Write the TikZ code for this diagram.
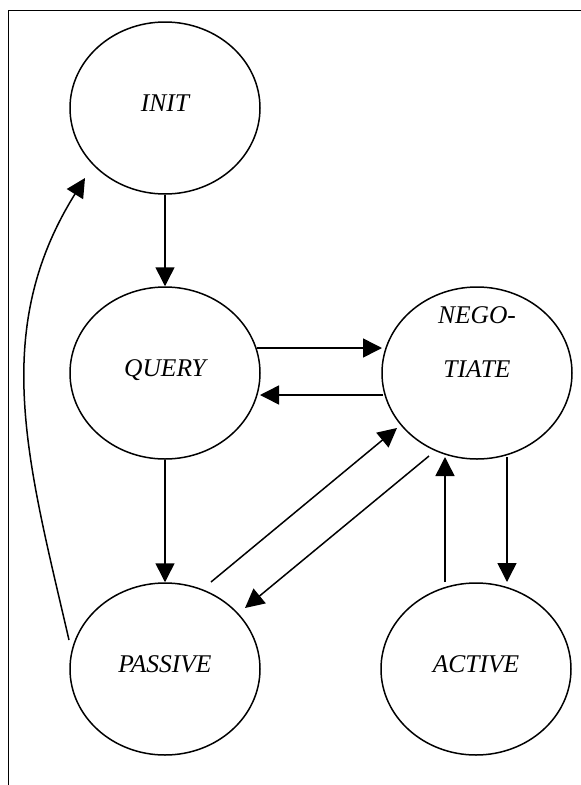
\documentclass[tikz,border=0pt]{standalone}
\usepackage{fontspec}
\setmainfont{Liberation Serif}
\usetikzlibrary{arrows.meta,calc,shapes.geometric}

\tikzset{
  state/.style={draw, ellipse, line width=1.5pt, minimum width=190pt, minimum height=172pt,
    inner sep=0pt, font=\fontsize{25.5}{29}\selectfont\itshape,
    text height=17pt, text depth=10pt},
  statetext/.style={font=\fontsize{25.5}{54}\selectfont\itshape, align=center, inner sep=0pt},
  flow/.style={line width=1.5pt, -{Triangle[length=19pt,width=19pt]}},
  frame/.style={line width=1.6pt}
}

\begin{document}
\begin{tikzpicture}[x=1pt,y=-1pt]
  \useasboundingbox (0,0) rectangle (581,785);

  % frame: top and left rules only
  \coordinate (ftl) at (8.5,10.5);
  \coordinate (ftr) at (581,10.5);
  \coordinate (fbl) at (8.5,785);
  \draw[frame] (ftr) -- (ftl) -- (fbl);

  % states
  \node[state] (init)    at (165,108) {INIT};
  \node[state] (query)   at (165,373) {QUERY};
  \node[state] (nego)    at (477,373) {};
  \node[statetext] (negotext) at (477,342) {NEGO-\\TIATE};
  \node[state] (passive) at (165,669) {PASSIVE};
  \node[state] (active)  at (476,669) {ACTIVE};

  % transitions
  \draw[flow] (init.south) -- (query.north);
  \draw[flow] ($(query.center)+(92,-25)$) -- ($(nego.center)+(-95,-25)$);
  \draw[flow] ($(nego.center)+(-94,22)$) -- ($(query.center)+(95,22)$);
  \draw[flow] (query.south) -- (passive.north);
  \draw[flow] ($(passive.center)+(46,-87)$) -- ($(nego.center)+(-80,55)$);
  \draw[flow] ($(nego.center)+(-48,83)$) -- ($(passive.center)+(80,-61)$);
  \draw[flow] ($(active.center)+(-31,-87)$) -- ($(nego.center)+(-32,84)$);
  \draw[flow] ($(nego.center)+(30,84)$) -- ($(active.center)+(31,-87)$);
  \draw[flow] ($(passive.center)+(-96,-29)$) to[out=103,in=238] ($(init.center)+(-80,70)$);
\end{tikzpicture}
\end{document}
